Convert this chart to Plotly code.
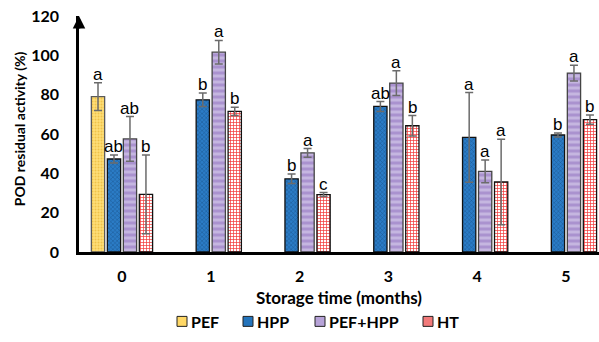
import plotly.graph_objects as go

# ---------------- data ----------------
groups = ["0", "1", "2", "3", "4", "5"]
series = ["PEF", "HPP", "PEF+HPP", "HT"]

pef = [79.0, None, None, None, None, None]
pef_err = [7.0, None, None, None, None, None]
pef_lbl = ["a", "", "", "", "", ""]

hpp = [47.3, 77.4, 37.2, 74.0, 58.3, 59.5]
hpp_err = [2.0, 3.4, 2.4, 2.5, 22.8, 1.0]
hpp_lbl = ["ab", "b", "b", "ab", "a", "b"]

pefhpp = [57.5, 101.6, 50.4, 85.9, 41.0, 91.0]
pefhpp_err = [11.4, 6.0, 2.2, 6.3, 5.8, 4.0]
pefhpp_lbl = ["ab", "a", "a", "a", "a", "a"]

ht = [29.3, 71.5, 29.2, 64.2, 35.6, 67.3]
ht_err = [20.0, 2.1, 1.0, 5.2, 21.7, 2.4]
ht_lbl = ["b", "b", "c", "b", "a", "b"]

y_ticks = [0, 20, 40, 60, 80, 100, 120]

# ---------------- styles ----------------
styles = {
    "PEF": dict(bg="#FFDF78", fg="#EFC24A", shape=".", size=3, sol=0.35, line="#5a5a5a", legend="#FFD866"),
    "HPP": dict(bg="#2B7CC6", fg="#174F86", shape="x", size=3, sol=0.25, line="#111111", legend="#2474BC"),
    "PEF+HPP": dict(bg="#C5B6E0", fg="#AA92CF", shape="-", size=6, sol=0.5, line="#444444", legend="#B7A3D8"),
    "HT": dict(bg="#FFFFFF", fg="#F23B3B", shape="+", size=3, sol=0.42, line="#111111", legend="#F27A7A"),
}
data = {
    "PEF": (pef, pef_err, pef_lbl),
    "HPP": (hpp, hpp_err, hpp_lbl),
    "PEF+HPP": (pefhpp, pefhpp_err, pefhpp_lbl),
    "HT": (ht, ht_err, ht_lbl),
}

PLOT_L, PLOT_W = 79, 520
BARGAP = 0.28
fig = go.Figure()
for name in series:
    vals, errs, _ = data[name]
    st = styles[name]
    fig.add_trace(go.Bar(
        name=name, x=groups, y=vals,
        marker=dict(
            color=st["bg"],
            line=dict(color=st["line"], width=1.3),
            pattern=dict(shape=st["shape"], bgcolor=st["bg"], fgcolor=st["fg"],
                         size=st["size"], solidity=st["sol"], fillmode="replace"),
        ),
        error_y=dict(type="data", array=errs, visible=True, color="#6b6b6b",
                     thickness=1.5, width=4),
        showlegend=False,
    ))

# significance letters above error bars
slot = (1 - BARGAP) / len(series)
annotations = []
for i, name in enumerate(series):
    vals, errs, lbls = data[name]
    off = (i - (len(series) - 1) / 2) * slot
    for g, (v, e, l) in enumerate(zip(vals, errs, lbls)):
        if v is None or not l:
            continue
        annotations.append(dict(
            x=g + off, y=v + e, xref="x", yref="y", text=l, showarrow=False,
            yanchor="bottom", yshift=-3,
            font=dict(family="Liberation Sans, Arial", size=17, color="black"),
        ))

# arrow on top of y axis
annotations.append(dict(
    x=0, y=120, xref="paper", yref="y", ax=0, ay=14, axref="pixel", ayref="pixel",
    showarrow=True, arrowhead=2, arrowsize=1, arrowwidth=2.5, arrowcolor="black", text="",
))

# axis titles
annotations.append(dict(
    x=0.5, y=-0.192, xref="paper", yref="paper", text="<b>Storage time (months)</b>",
    showarrow=False, xanchor="center", yanchor="middle",
    font=dict(family="Lato", size=17, color="black"),
))
annotations.append(dict(
    x=(19 - PLOT_L) / PLOT_W, y=0.52, xref="paper", yref="paper",
    text="<b>POD residual activity (%)</b>",
    showarrow=False, xanchor="center", yanchor="middle", textangle=-90,
    font=dict(family="Lato", size=14, color="black"),
))

# custom legend
leg_sq = [177, 243, 315, 423]
leg_y = -0.294
shapes = []
for name, sx in zip(series, leg_sq):
    x0 = (sx - PLOT_L) / PLOT_W
    x1 = (sx + 10 - PLOT_L) / PLOT_W
    shapes.append(dict(type="rect", xref="paper", yref="paper",
                       x0=x0, x1=x1, y0=leg_y - 5 / 236.5, y1=leg_y + 5 / 236.5,
                       fillcolor=styles[name]["legend"], line=dict(color="#222222", width=1)))
    annotations.append(dict(
        x=(sx + 12 - PLOT_L) / PLOT_W, y=leg_y, xref="paper", yref="paper",
        text="<b>%s</b>" % name, showarrow=False, xanchor="left", yanchor="middle",
        font=dict(family="Lato", size=16, color="black"),
    ))

fig.update_layout(
    width=599, height=342,
    margin=dict(l=79, r=0, t=16, b=89.5),
    paper_bgcolor="white", plot_bgcolor="white",
    barmode="group", bargap=BARGAP, bargroupgap=0.17,
    annotations=annotations, shapes=shapes,
    showlegend=False,
    xaxis=dict(
        type="category", range=[-0.484, 5.372],
        showline=True, linecolor="black", linewidth=3,
        showgrid=False, zeroline=False, ticks="",
        tickfont=dict(family="Lato", size=16, color="black"),
        ticklabelstandoff=8,
    ),
    yaxis=dict(
        range=[0, 120], tickvals=y_ticks, ticktext=["<b>%d</b>" % t for t in y_ticks],
        showline=True, linecolor="black", linewidth=2.5,
        showgrid=False, zeroline=False, ticks="",
        tickfont=dict(family="Lato", size=16, color="black"),
        ticklabelstandoff=14,
    ),
)
fig.update_xaxes(tickvals=groups, ticktext=["<b>%s</b>" % g for g in groups])

fig.write_html("out.html")
